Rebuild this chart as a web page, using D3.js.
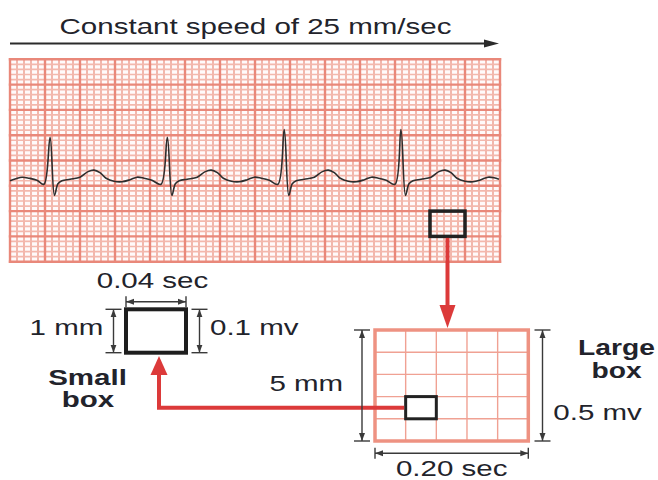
<!DOCTYPE html>
<html>
<head>
<meta charset="utf-8">
<script src="https://cdn.jsdelivr.net/npm/d3@7"></script>
<style>
  body { margin: 0; background: #fff; }
  svg { display: block; }
  text { font-family: "Liberation Sans", Arial, sans-serif; fill: #22232b; }
</style>
</head>
<body>
<div id="chart"></div>
<script>
// paper: 2.8 s across, 4 mV high (small box 0.04 s / 0.1 mV, large box 0.2 s / 0.5 mV)
const timeDomain = [0, 2.8];
const mvDomain = [-1.6, 2.4];
const smallSec = 0.04;
const largeSec = 0.2;
const smallMv = 0.1;
const largeMv = 0.5;

// ecg trace
const ecgTime = [0.000, 0.034, 0.069, 0.109, 0.154, 0.194, 0.229, 0.254, 0.274, 0.297, 0.343, 0.400, 0.446, 0.480, 0.514, 0.549, 0.594, 0.640, 0.686, 0.726, 0.766, 0.811, 0.863,
  0.899, 0.925, 0.945, 0.967, 1.013, 1.070, 1.116, 1.150, 1.185, 1.219, 1.265, 1.310, 1.356, 1.396, 1.436, 1.482, 1.531,
  1.567, 1.593, 1.613, 1.636, 1.682, 1.739, 1.785, 1.819, 1.853, 1.887, 1.933, 1.979, 2.025, 2.065, 2.105, 2.150, 2.200,
  2.234, 2.260, 2.280, 2.303, 2.349, 2.406, 2.451, 2.486, 2.520, 2.554, 2.600, 2.646, 2.691, 2.731, 2.766, 2.794];
const ecgMv = [0.00, 0.04, 0.07, 0.05, 0.01, -0.07, 0.86, -0.29, -0.06, 0.00, 0.03, 0.07, 0.18, 0.21, 0.16, 0.05, -0.01, -0.02, 0.02, 0.07, 0.05, 0.01, -0.07,
  0.86, -0.29, -0.06, 0.00, 0.03, 0.07, 0.18, 0.21, 0.16, 0.05, -0.01, -0.02, 0.02, 0.07, 0.05, 0.01, -0.07,
  1.01, -0.29, -0.06, 0.00, 0.03, 0.07, 0.18, 0.21, 0.16, 0.05, -0.01, -0.02, 0.02, 0.07, 0.05, 0.01, -0.07,
  1.01, -0.29, -0.06, 0.00, 0.03, 0.07, 0.18, 0.21, 0.16, 0.05, -0.01, -0.02, 0.02, 0.07, 0.06, 0.03];

// labels
const titleText = 'Constant speed of 25 mm/sec';
const smallWidthText = '0.04 sec';
const smallHeightMm = '1 mm';
const smallHeightMv = '0.1 mv';
const smallBoxText = ['Small', 'box'];
const largeHeightMm = '5 mm';
const largeHeightMv = '0.5 mv';
const largeWidthText = '0.20 sec';
const largeBoxText = ['Large', 'box'];

function init () {
  const width = 658;
  const height = 480;
  const stretch = 1.36; // the figure is wider than tall
  const ink = '#3a3a3a';
  const red = '#dc3a3a';

  const svg = d3.select('#chart')
    .append('svg')
    .attr('width', width)
    .attr('height', height);

  const defs = svg.append('defs');
  defs.append('marker')
    .attr('id', 'dim')
    .attr('viewBox', '0 -4 8 8')
    .attr('refX', 8)
    .attr('refY', 0)
    .attr('markerUnits', 'userSpaceOnUse')
    .attr('markerWidth', 8)
    .attr('markerHeight', 8)
    .attr('orient', 'auto-start-reverse')
    .append('path')
    .attr('d', 'M0,-3L8,0L0,3Z')
    .attr('fill', ink);

  function label (x, y, str, anchor, bold, sx) {
    svg.append('text')
      .attr('transform', `translate(${x},${y}) scale(${sx || stretch},1)`)
      .attr('text-anchor', anchor)
      .attr('font-size', 21.7)
      .attr('font-weight', bold ? 'bold' : 'normal')
      .text(str);
  }

  // title + arrow
  label(255.5, 34, titleText, 'middle', false);
  svg.append('line')
    .attr('x1', 10).attr('x2', 486)
    .attr('y1', 43.5).attr('y2', 43.5)
    .attr('stroke', '#2b2b2b').attr('stroke-width', 2);
  svg.append('path')
    .attr('d', 'M484,39.5L499,43.5L484,47.5Z')
    .attr('fill', '#2b2b2b');

  // ecg paper
  const x = d3.scaleLinear().domain(timeDomain).range([10, 500]);
  const y = d3.scaleLinear().domain(mvDomain).range([261.7, 59.3]);

  const nMinorX = Math.round((timeDomain[1] - timeDomain[0]) / smallSec);
  const nMinorY = Math.round((mvDomain[1] - mvDomain[0]) / smallMv);
  const perLargeX = Math.round(largeSec / smallSec);
  const perLargeY = Math.round(largeMv / smallMv);

  const paper = svg.append('g');
  paper.append('rect')
    .attr('x', x(timeDomain[0])).attr('y', y(mvDomain[1]))
    .attr('width', x(timeDomain[1]) - x(timeDomain[0]))
    .attr('height', y(mvDomain[0]) - y(mvDomain[1]))
    .attr('fill', '#fffafa');

  const vx = d3.range(nMinorX + 1);
  const hy = d3.range(nMinorY + 1);
  paper.selectAll('.vminor')
    .data(vx.filter(i => i % perLargeX !== 0))
    .join('line')
    .attr('x1', i => x(timeDomain[0] + i * smallSec)).attr('x2', i => x(timeDomain[0] + i * smallSec))
    .attr('y1', y(mvDomain[1])).attr('y2', y(mvDomain[0]))
    .attr('stroke', '#f0ab9e').attr('stroke-width', 1.7);
  paper.selectAll('.hminor')
    .data(hy.filter(i => i % perLargeY !== 0))
    .join('line')
    .attr('y1', i => y(mvDomain[0] + i * smallMv)).attr('y2', i => y(mvDomain[0] + i * smallMv))
    .attr('x1', x(timeDomain[0])).attr('x2', x(timeDomain[1]))
    .attr('stroke', '#f3b8ad').attr('stroke-width', 1.7);
  paper.selectAll('.vmajor')
    .data(vx.filter(i => i % perLargeX === 0))
    .join('line')
    .attr('x1', i => x(timeDomain[0] + i * smallSec)).attr('x2', i => x(timeDomain[0] + i * smallSec))
    .attr('y1', y(mvDomain[1]) - 1.2).attr('y2', y(mvDomain[0]) + 1.2)
    .attr('stroke', '#e9887a').attr('stroke-width', 2.4);
  paper.selectAll('.hmajor')
    .data(hy.filter(i => i % perLargeY === 0))
    .join('line')
    .attr('y1', i => y(mvDomain[0] + i * smallMv)).attr('y2', i => y(mvDomain[0] + i * smallMv))
    .attr('x1', x(timeDomain[0]) - 1.2).attr('x2', x(timeDomain[1]) + 1.2)
    .attr('stroke', '#e9887a').attr('stroke-width', 2.4);

  // trace
  const points = ecgTime.map((t, i) => ({ t: t, mv: ecgMv[i] }));
  const line = d3.line()
    .x(d => x(d.t))
    .y(d => y(d.mv))
    .curve(d3.curveCatmullRom.alpha(0.5));
  svg.append('path')
    .datum(points)
    .attr('fill', 'none')
    .attr('stroke', '#2e2e2e')
    .attr('stroke-width', 1.6)
    .attr('stroke-linejoin', 'round')
    .attr('d', line);

  // one large box picked out on the strip
  const pickT = 2.4;
  const pickMv = -0.6;
  svg.append('rect')
    .attr('x', x(pickT)).attr('y', y(pickMv))
    .attr('width', x(pickT + largeSec) - x(pickT))
    .attr('height', y(pickMv - largeMv) - y(pickMv))
    .attr('fill', 'none').attr('stroke', '#222').attr('stroke-width', 3.5);

  // red arrow down to the large box
  const ax = x(pickT + largeSec / 2);
  svg.append('line')
    .attr('x1', ax).attr('x2', ax)
    .attr('y1', y(pickMv - largeMv) + 1.5).attr('y2', 307)
    .attr('stroke', red).attr('stroke-width', 4);
  svg.append('path')
    .attr('d', `M${ax - 8},305L${ax + 8},305L${ax},328Z`)
    .attr('fill', red);

  // enlarged large box
  const bx = d3.scaleLinear().domain([0, largeSec]).range([375, 528.3]);
  const by = d3.scaleLinear().domain([0, largeMv]).range([330, 441]);
  const cols = d3.range(1, perLargeX);
  const rows = d3.range(1, perLargeY);
  const big = svg.append('g');
  big.selectAll('.bc')
    .data(cols).join('line')
    .attr('x1', i => bx(i * smallSec)).attr('x2', i => bx(i * smallSec))
    .attr('y1', by(0)).attr('y2', by(largeMv))
    .attr('stroke', '#f0a193').attr('stroke-width', 1.4);
  big.selectAll('.br')
    .data(rows).join('line')
    .attr('y1', i => by(i * smallMv)).attr('y2', i => by(i * smallMv))
    .attr('x1', bx(0)).attr('x2', bx(largeSec))
    .attr('stroke', '#f0a193').attr('stroke-width', 1.4);
  big.append('rect')
    .attr('x', bx(0)).attr('y', by(0))
    .attr('width', bx(largeSec) - bx(0)).attr('height', by(largeMv) - by(0))
    .attr('fill', 'none').attr('stroke', '#ee9282').attr('stroke-width', 3.5);

  // small box inside the large one
  const sc = 1;
  const sr = 3;
  svg.append('rect')
    .attr('x', bx(sc * smallSec)).attr('y', by(sr * smallMv))
    .attr('width', bx(smallSec) - bx(0)).attr('height', by(smallMv) - by(0))
    .attr('fill', 'none').attr('stroke', '#222').attr('stroke-width', 3);

  // small box on its own
  const sb = { x: 126, y: 309.3, w: 60, h: 43.4 };
  svg.append('rect')
    .attr('x', sb.x).attr('y', sb.y).attr('width', sb.w).attr('height', sb.h)
    .attr('fill', 'none').attr('stroke', '#1e1e1e').attr('stroke-width', 4);

  // red elbow arrow back to the small box
  const ry = by((sr + 0.5) * smallMv);
  const rx = 159;
  svg.append('path')
    .attr('d', `M${bx(sc * smallSec) - 1.5},${ry}L${rx},${ry}L${rx},373`)
    .attr('fill', 'none').attr('stroke', red).attr('stroke-width', 4);
  svg.append('path')
    .attr('d', `M${rx - 8.5},375L${rx + 8.5},375L${rx},356Z`)
    .attr('fill', red);

  // dimension lines
  function dim (x1, y1, x2, y2) {
    svg.append('line')
      .attr('x1', x1).attr('y1', y1).attr('x2', x2).attr('y2', y2)
      .attr('stroke', ink).attr('stroke-width', 1.4)
      .attr('marker-start', 'url(#dim)').attr('marker-end', 'url(#dim)');
    const horiz = y1 === y2;
    [[x1, y1], [x2, y2]].forEach(p => {
      svg.append('line')
        .attr('x1', horiz ? p[0] : p[0] - 8).attr('x2', horiz ? p[0] : p[0] + 8)
        .attr('y1', horiz ? p[1] - 5.5 : p[1]).attr('y2', horiz ? p[1] + 5.5 : p[1])
        .attr('stroke', ink).attr('stroke-width', 1.4);
    });
  }
  dim(sb.x, 301.7, sb.x + sb.w, 301.7);
  dim(113.5, sb.y, 113.5, sb.y + sb.h);
  dim(199.5, sb.y, 199.5, sb.y + sb.h);
  dim(362, by(0), 362, by(largeMv));
  dim(542.5, by(0), 542.5, by(largeMv));
  dim(bx(0), 453.3, bx(largeSec), 453.3);

  // labels
  label(152.5, 288.3, smallWidthText, 'middle', false);
  label(103.3, 335, smallHeightMm, 'end', false);
  label(210, 335, smallHeightMv, 'start', false);
  label(87.5, 385, smallBoxText[0], 'middle', true);
  label(88, 406.7, smallBoxText[1], 'middle', true);
  label(306.3, 390.7, largeHeightMm, 'middle', false);
  label(553.3, 420, largeHeightMv, 'start', false);
  label(451.7, 476, largeWidthText, 'middle', false);
  label(616.5, 355, largeBoxText[0], 'middle', true, 1.3);
  label(616.5, 378.3, largeBoxText[1], 'middle', true, 1.3);
}

init();
</script>
</body>
</html>
